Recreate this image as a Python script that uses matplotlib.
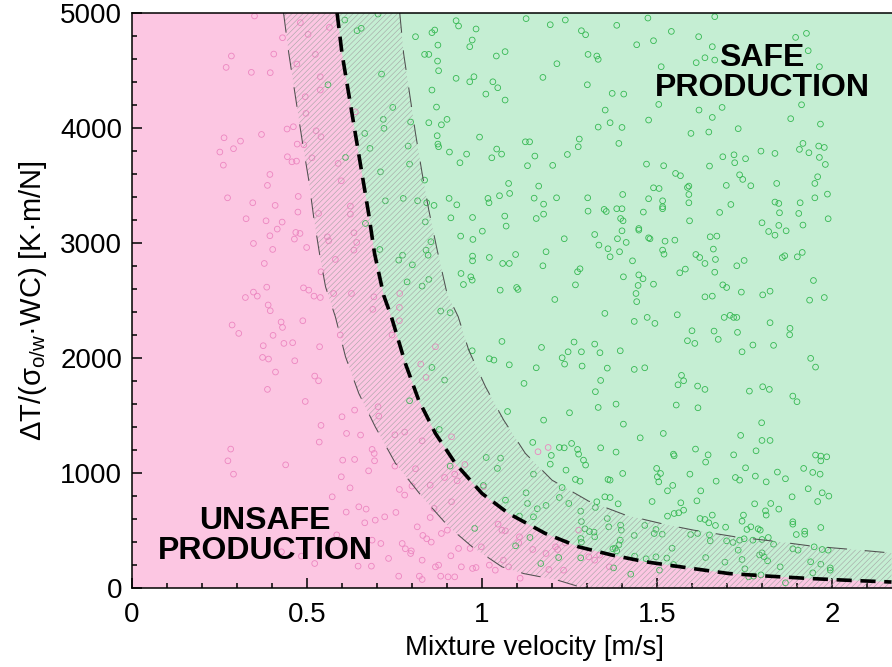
import matplotlib
matplotlib.use("Agg")
import matplotlib.pyplot as plt
from matplotlib.ticker import MultipleLocator

plt.rcParams['font.family'] = ['Liberation Sans', 'DejaVu Sans']
plt.rcParams['mathtext.fontset'] = 'custom'
plt.rcParams['mathtext.rm'] = 'Liberation Sans'
plt.rcParams['mathtext.it'] = 'Liberation Sans:italic'
plt.rcParams['hatch.linewidth'] = 0.4

# ---------------- data ----------------
x_label = "Mixture velocity [m/s]"
y_label = r"ΔT/(σ$_{\mathrm{o/w}}$·WC) [K·m/N]"
safe_label = "SAFE\nPRODUCTION"
unsafe_label = "UNSAFE\nPRODUCTION"
x_ticks = [0, 0.5, 1, 1.5, 2]
x_ticklabels = ["0", "0.5", "1", "1.5", "2"]
y_ticks = [0, 1000, 2000, 3000, 4000, 5000]
y_ticklabels = ["0", "1000", "2000", "3000", "4000", "5000"]

# critical boundary (thick dashed)
boundary_x = [0.586, 0.600, 0.619, 0.638, 0.657, 0.676, 0.693, 0.719, 0.741, 0.781, 0.819, 0.867,
              0.924, 1.000, 1.076, 1.181, 1.276, 1.372, 1.467, 1.600, 1.705, 1.819, 1.934, 2.039, 2.170]
boundary_y = [5000, 4649, 4301, 3953, 3605, 3257, 2909, 2546, 2359, 1953, 1634, 1344,
              1083, 822, 648, 474, 358, 286, 228, 170, 126, 103, 83, 68, 52]
# lower uncertainty bound (thin dashed)
lower_x = [0.433, 0.448, 0.467, 0.486, 0.505, 0.519, 0.538, 0.553, 0.581, 0.610, 0.648, 0.695,
           0.753, 0.829, 0.905, 0.972, 1.057, 1.120, 1.214, 1.290]
lower_y = [5000, 4649, 4272, 3895, 3547, 3228, 2866, 2619, 2359, 2011, 1692, 1402,
           1083, 793, 532, 358, 184, 125, 70, 0]
# upper uncertainty bound (thin dashed)
upper_x = [0.765, 0.776, 0.793, 0.810, 0.829, 0.848, 0.872, 0.900, 0.932, 0.962, 1.010, 1.062,
           1.124, 1.200, 1.305, 1.410, 1.524, 1.605, 1.724, 1.848, 1.943, 2.058, 2.170]
upper_y = [5000, 4649, 4301, 3953, 3605, 3286, 2938, 2561, 2359, 2069, 1750, 1460,
           1170, 938, 755, 634, 552, 503, 445, 402, 364, 335, 304]

pink_x = [0.350, 0.481, 0.503, 0.430, 0.405, 0.284, 0.269, 0.341, 0.395, 0.524, 0.471, 0.538,
          0.538, 0.495, 0.497, 0.443, 0.461, 0.370, 0.263, 0.310, 0.526, 0.540, 0.251, 0.290,
          0.472, 0.491, 0.444, 0.457, 0.470, 0.514, 0.261, 0.394, 0.387, 0.273, 0.345, 0.409,
          0.475, 0.474, 0.533, 0.326, 0.383, 0.429, 0.415, 0.394, 0.468, 0.480, 0.464, 0.347,
          0.402, 0.499, 0.378, 0.385, 0.347, 0.324, 0.358, 0.490, 0.505, 0.520, 0.538, 0.540,
          0.564, 0.638, 0.589, 0.598, 0.624, 0.624, 0.634, 0.558, 0.562, 0.642, 0.634, 0.581,
          0.576, 0.627, 0.691, 0.765,
          0.389, 0.395, 0.286, 0.305, 0.426, 0.430, 0.403, 0.488, 0.375, 0.434, 0.459, 0.373,
          0.390, 0.465, 0.410, 0.387, 0.522, 0.533, 0.536, 0.495, 0.540, 0.535, 0.282, 0.274,
          0.290, 0.439, 0.427, 0.484, 0.522,
          0.688, 0.764, 0.764, 0.743, 0.595, 0.867, 0.825, 0.840, 0.636, 0.600, 0.703, 0.705,
          0.613, 0.653, 0.751, 0.779, 0.829, 0.913, 0.686, 0.692, 0.693, 0.602, 0.636, 0.676,
          0.751, 0.810, 0.598, 0.623, 0.572, 0.764, 0.779, 0.800, 0.852, 0.893, 0.922, 0.929,
          0.951, 1.004, 0.913, 0.648, 0.669, 0.612, 0.695, 0.722, 0.754, 0.665, 0.863, 0.852,
          0.815, 0.901, 0.884, 0.831, 0.842, 0.855, 0.772, 0.781, 0.798, 0.796, 0.686, 0.711,
          0.585, 0.733, 0.829, 0.911, 0.933, 0.966, 0.876, 0.867, 0.941, 0.973, 0.983, 1.021,
          1.038, 1.061, 1.076, 0.762, 0.821, 0.829, 0.882, 0.903, 0.922, 0.998, 1.046, 1.057,
          1.067, 0.646, 0.684,
          1.160, 1.189, 1.107, 1.105, 1.145, 1.210, 1.216, 1.238, 1.183, 1.305, 1.336, 1.191,
          1.233, 1.109, 1.364, 1.322, 1.276]
pink_y = [4974, 4916, 4814, 4785, 4643, 4626, 4527, 4484, 4481, 4640, 4556, 4446,
          4330, 4272, 4127, 3991, 4011, 3944, 3915, 3886, 3976, 3924, 3791, 3820,
          3860, 3854, 3750, 3706, 3712, 3741, 3677, 3596, 3501, 3393, 3350, 3327,
          3405, 3269, 3257, 3211, 3193, 3182, 3121, 3063, 3092, 3083, 3034, 2996,
          2944, 2961, 2822, 2616, 2573, 2526, 2538, 2610, 2590, 2538, 2526, 2750,
          4875, 4141, 3692, 3541, 3321, 3251, 3089, 3054, 3019, 3005, 2938, 2857,
          2561, 2561, 2532, 2561,
          2461, 2411, 2287, 2214, 2313, 2266, 2197, 2324, 2107, 2127, 2133, 2005,
          1991, 1976, 1878, 1727, 1843, 1802, 2098, 1622, 1414, 1269, 1208, 1106,
          990, 1071, 315, 277, 213,
          2423, 2440, 2324, 2200, 2200, 2098, 1947, 1831, 1547, 1489, 1576, 1495,
          1344, 1330, 1332, 1356, 1280, 1315, 1205, 1170, 1106, 1112, 1118, 1019,
          1060, 1037, 967, 871, 793, 857, 808, 886, 894, 961, 990, 932,
          1074, 880, 750, 706, 686, 660, 590, 619, 657, 567, 692, 613,
          532, 503, 474, 457, 428, 399, 387, 341, 323, 300, 416, 387,
          462, 257, 242, 280, 344, 344, 199, 184, 184, 170, 178, 199,
          155, 242, 184, 103, 103, 74, 103, 97, 97, 358, 555, 503,
          497, 190, 190,
          1185, 1222, 445, 393, 335, 358, 335, 393, 300, 271, 286, 161,
          155, 85, 184, 242, 503]

green_x = [0.608, 0.643, 0.655, 0.703, 0.560, 0.713, 0.745, 0.718, 0.720, 0.665, 0.680, 0.610,
           0.710, 0.667, 0.724, 0.775, 0.816, 0.842, 0.863, 0.838, 0.854, 0.840, 0.846, 0.708,
           0.762, 0.773, 0.801, 0.786, 0.829, 0.848, 0.796, 0.789, 0.793, 0.836, 0.810, 0.857,
           0.865, 0.874, 0.836, 0.848, 0.873, 0.876, 0.926, 0.933, 0.983, 0.972, 0.965, 1.041,
           1.066, 0.926, 0.965, 0.977, 1.031, 1.045, 1.011, 1.066, 0.857, 0.870, 0.848, 0.884,
           0.900, 0.993, 0.872, 0.874, 0.876, 0.907, 0.956, 0.937, 1.028, 1.042, 1.056, 1.076,
           1.079, 1.050, 1.017, 1.020, 0.906, 0.928, 0.911, 0.973, 1.065, 1.069, 1.001, 0.939,
           0.974, 0.973, 0.973, 1.021, 1.059, 1.078, 0.940, 0.968, 0.972, 0.947, 1.052,
           1.126, 1.195, 1.238, 1.284, 1.296, 1.385, 1.474, 1.541, 1.619, 1.442, 1.490, 1.303,
           1.328, 1.332, 1.214, 1.612, 1.512, 1.174, 1.301, 1.372, 1.405, 1.352, 1.505, 1.476,
           1.620, 1.332, 1.366, 1.400, 1.597, 1.124, 1.136, 1.278, 1.275, 1.391, 1.151, 1.244,
           1.130, 1.202, 1.470, 1.519, 1.553, 1.567, 1.591, 1.587, 1.591, 1.591, 1.593, 1.490,
           1.506, 1.476, 1.516, 1.516, 1.516, 1.461, 1.162, 1.149, 1.176, 1.213, 1.302, 1.402,
           1.155, 1.176, 1.303, 1.349, 1.355, 1.385, 1.400, 1.396, 1.403, 1.400, 1.322, 1.387,
           1.412, 1.448, 1.448, 1.476, 1.480, 1.523, 1.551, 1.235, 1.096, 1.183, 1.174, 1.334,
           1.360, 1.366, 1.393, 1.430, 1.516, 1.520, 1.611, 1.622, 1.273, 1.280, 1.267, 1.404,
           1.448, 1.460, 1.446, 1.490, 1.440, 1.565, 1.581, 1.099, 1.103, 1.208,
           1.665, 1.896, 1.927, 1.932, 1.964, 1.658, 1.637, 1.665, 1.686, 1.658, 1.648, 1.732,
           1.882, 1.913, 1.967, 1.917, 1.907, 1.934, 1.962, 1.978, 1.964, 1.981, 1.797, 1.837,
           1.688, 1.720, 1.722, 1.753, 1.650, 1.736, 1.745, 1.768, 1.698, 1.842, 1.959, 1.951,
           1.987, 1.951, 1.837, 1.848, 1.909, 1.850, 1.905, 1.679, 1.711, 1.989, 1.917, 1.800,
           1.819, 1.837, 1.848, 1.869, 1.652, 1.671, 1.661, 1.667, 1.637, 1.665, 1.728, 1.749,
           1.858, 1.865, 1.901, 1.915, 1.688, 1.699, 1.741, 1.802, 1.823, 1.947, 1.637, 1.658,
           1.936, 1.978,
           0.882, 0.909, 0.972, 1.021, 1.034, 1.078, 1.057, 0.857, 0.893, 0.793, 1.073, 0.878,
           1.012, 1.053, 1.044, 0.909, 1.067, 0.979, 1.004,
           1.442, 1.351, 1.435, 1.472, 1.494, 1.558, 1.600, 1.587, 1.608, 1.170, 1.263, 1.322,
           1.246, 1.284, 1.337, 1.395, 1.229, 1.236, 1.286, 1.155, 1.358, 1.435, 1.465, 1.120,
           1.339, 1.324, 1.570, 1.576, 1.560, 1.616, 1.332, 1.383, 1.250, 1.176, 1.404, 1.555,
           1.617, 1.452, 1.518, 1.145, 1.221, 1.235, 1.256, 1.273, 1.276, 1.198, 1.290, 1.296,
           1.195, 1.339, 1.383, 1.547, 1.549, 1.610, 1.147, 1.240, 1.267, 1.280, 1.360, 1.366,
           1.402, 1.499, 1.510, 1.501, 1.505, 1.594, 1.545, 1.530, 1.625, 1.126, 1.183, 1.158,
           1.130, 1.221, 1.248, 1.229, 1.351, 1.366, 1.328, 1.324, 1.389, 1.486, 1.568, 1.576,
           1.562, 1.549, 1.530, 1.614, 1.623, 1.282, 1.284, 1.147, 1.107, 1.294, 1.307, 1.320,
           1.322, 1.362, 1.358, 1.396, 1.398, 1.435, 1.465, 1.497, 1.515, 1.492, 1.596, 1.616,
           1.282, 1.284, 1.395, 1.391, 1.381, 1.385, 1.374, 1.436, 1.469, 1.497, 1.528, 1.543,
           1.547, 1.507, 1.425, 1.376, 1.282, 1.219, 1.168, 1.096, 1.137,
           1.692, 1.709, 1.719, 1.728, 1.823, 1.880, 1.879, 1.663, 1.675, 1.730, 1.743, 1.774,
           1.833, 1.939, 1.953, 1.637, 1.764, 1.802, 1.821, 1.888, 1.900, 1.799, 1.739, 1.800,
           1.823, 1.783, 1.646, 1.639, 1.719, 1.753, 1.724, 1.736, 1.781, 1.812, 1.844, 1.867,
           1.919, 1.945, 1.966, 1.953, 1.968, 1.985, 1.968, 1.932, 1.972, 1.991, 1.959, 1.886,
           1.669, 1.779, 1.825, 1.848, 1.810, 1.812, 1.888, 1.888, 1.968, 1.922, 1.922, 1.898,
           1.658, 1.637, 1.648, 1.667, 1.696, 1.747, 1.743, 1.757, 1.768, 1.789, 1.795, 1.650,
           1.652, 1.699, 1.717, 1.736, 1.749, 1.774, 1.800, 1.818, 1.833, 1.732, 1.743, 1.694,
           1.639, 1.793, 1.806, 1.800, 1.816, 1.852, 1.751, 1.762, 1.776, 1.797, 1.888, 1.903,
           1.949, 1.972, 1.989, 1.939, 1.968, 1.995, 1.995, 1.945, 1.867]
green_y = [4939, 4846, 4867, 4991, 4376, 4469, 4179, 4075, 3997, 3953, 3823, 3744,
           3619, 3170, 3367, 3388, 3367, 3350, 3327, 3184, 3011, 2938, 2894, 2944,
           2851, 2894, 2810, 2662, 2625, 2683, 4052, 3843, 3686, 3547, 4794, 4829,
           4852, 4721, 4640, 4640, 4582, 4498, 4933, 4887, 4861, 4765, 4707, 4626,
           4664, 4432, 4402, 4446, 4402, 4350, 4295, 4243, 4330, 4182, 4046, 4028,
           4075, 3921, 3933, 3860, 3837, 3791, 3773, 3698, 3741, 3817, 3773, 3518,
           3431, 3411, 3388, 3350, 3388, 3332, 3219, 3222, 3234, 3147, 3103, 3060,
           3031, 2886, 2845, 2874, 2822, 2822, 2735, 2706, 2677, 2639, 2590,
           4951, 4898, 4939, 4846, 4811, 4893, 4956, 4840, 4794, 4724, 4759, 4640,
           4626, 4597, 4559, 4568, 4533, 4440, 4376, 4301, 4295, 4156, 4205, 4069,
           4156, 4008, 4046, 4005, 3953, 3880, 3880, 3904, 3837, 3866, 3756, 3770,
           3672, 3675, 3686, 3672, 3605, 3585, 3495, 3483, 3422, 3350, 3193, 3480,
           3474, 3385, 3367, 3315, 3298, 3269, 3495, 3390, 3338, 3393, 3393, 3422,
           3213, 3251, 3277, 3292, 3274, 3298, 3298, 3213, 3193, 3106, 3074, 3037,
           3005, 3126, 3112, 3045, 3037, 3016, 3025, 3037, 2900, 2924, 2802, 2982,
           2950, 2880, 2924, 2845, 2938, 2903, 2900, 2874, 2750, 2776, 2636, 2706,
           2723, 2689, 2631, 2642, 2561, 2741, 2773, 2613, 2596, 2509,
           4968, 4788, 4823, 4672, 4533, 4707, 4611, 4591, 4179, 4092, 3965, 3994,
           4081, 4202, 4034, 3866, 3814, 3785, 3843, 3831, 3744, 3683, 3799, 3779,
           3750, 3767, 3698, 3733, 3669, 3593, 3553, 3498, 3501, 3518, 3576, 3518,
           3425, 3393, 3356, 3344, 3350, 3263, 3257, 3266, 3335, 3211, 3156, 3176,
           3100, 3068, 3153, 3106, 3054, 3060, 2947, 2857, 2822, 2746, 2802, 2848,
           2874, 2889, 2880, 2918, 2636, 2613, 2573, 2549, 2581, 2674, 2532, 2538,
           2503, 2526,
           2408, 2394, 2063, 1994, 1982, 1941, 2144, 1918, 1808, 1628, 1535, 1379,
           1135, 1129, 1040, 1060, 764, 518, 892,
           2490, 2388, 2318, 2353, 2301, 2376, 2237, 2150, 2127, 2092, 2139, 2121,
           2054, 2054, 2046, 2063, 2002, 1947, 1930, 1915, 1912, 1901, 1915, 1779,
           1805, 1707, 1849, 1802, 1767, 1756, 1570, 1599, 1524, 1460, 1425, 1591,
           1567, 1306, 1344, 1266, 1222, 1219, 1257, 1205, 1164, 1153, 1112, 1069,
           1077, 1219, 1182, 1164, 1150, 1208, 990, 1025, 944, 929, 944, 938,
           996, 1040, 996, 967, 923, 990, 892, 845, 845, 828, 718, 689,
           735, 787, 735, 874, 793, 787, 750, 700, 732, 752, 741, 677,
           654, 648, 625, 758, 604, 668, 578, 619, 625, 515, 491, 486,
           445, 532, 604, 547, 503, 457, 544, 509, 468, 474, 465, 474,
           431, 399, 416, 375, 346, 323, 341, 277, 254, 271, 260, 346,
           204, 155, 120, 175, 262, 265, 213, 367, 439,
           2353, 2371, 2353, 2353, 2307, 2258, 2202, 2234, 2162, 2223, 2054, 2113,
           2110, 1997, 1921, 1727, 1712, 1750, 1727, 1669, 1620, 1437, 1327, 1283,
           1283, 1193, 1158, 1095, 1158, 1045, 961, 938, 973, 923, 1008, 950,
           1040, 1005, 990, 1156, 1147, 1141, 1106, 863, 828, 799, 752, 793,
           929, 732, 735, 686, 671, 634, 576, 555, 526, 494, 468, 465,
           634, 596, 567, 544, 529, 634, 581, 509, 532, 515, 503, 462,
           410, 410, 396, 416, 428, 416, 422, 439, 381, 329, 248, 225,
           265, 288, 271, 306, 236, 184, 167, 97, 103, 114, 341, 329,
           358, 335, 329, 228, 207, 175, 155, 132, 45]

# ---------------- styling ----------------
pink_bg = "#fcc6e2"
green_bg = "#c5eed3"
pink_mk = "#ec86c0"
green_mk = "#35b852"

XMIN, XMAX = 0.0, 2.30
YMIN, YMAX = 0.0, 5000.0

fig = plt.figure(figsize=(8.92, 6.67), dpi=100)
ax = fig.add_axes([132 / 892, 79 / 667, (XMAX - XMIN) * 350 / 892, 575 / 667])
ax.set_xlim(XMIN, XMAX)
ax.set_ylim(YMIN, YMAX)
ax.set_facecolor(green_bg)

# unsafe (pink) region: left of / below the boundary
px = [XMIN, XMIN] + boundary_x + [boundary_x[-1]]
py = [YMIN, YMAX] + boundary_y + [YMIN]
ax.fill(px, py, facecolor=pink_bg, edgecolor="none", zorder=0.5)

# points
ax.scatter(pink_x, pink_y, s=17, facecolors="none", edgecolors=pink_mk, linewidths=0.6, zorder=2)
ax.scatter(green_x, green_y, s=17, facecolors="none", edgecolors=green_mk, linewidths=0.6, zorder=2)

# hatched uncertainty band
hx = lower_x + [upper_x[-1]] + upper_x[::-1]
hy = lower_y + [YMIN] + upper_y[::-1]
ax.fill(hx, hy, facecolor="none", edgecolor="#a4a4a4", linewidth=0, hatch="//////", zorder=3)

# curves
ax.plot(lower_x, lower_y, color="#505050", lw=0.75, dashes=(19, 17), zorder=4)
ax.plot(upper_x, upper_y, color="#505050", lw=0.75, dashes=(19, 17), zorder=4)
ax.plot(boundary_x, boundary_y, color="black", lw=2.6, dashes=(4.2, 2.4), zorder=5)

# annotations
ax.text(1.80, 4480, safe_label, ha="center", va="center", fontsize=23, fontweight="bold",
        linespacing=1.0, zorder=6)
ax.text(0.38, 455, unsafe_label, ha="center", va="center", fontsize=23, fontweight="bold",
        linespacing=1.0, zorder=6)

# axes styling
ax.set_xticks(x_ticks)
ax.set_xticklabels(x_ticklabels)
ax.set_yticks(y_ticks)
ax.set_yticklabels(y_ticklabels)
ax.xaxis.set_minor_locator(MultipleLocator(0.1))
ax.yaxis.set_minor_locator(MultipleLocator(200))
ax.tick_params(which="both", direction="in", width=1.1, colors="black", labelsize=20)
ax.tick_params(which="major", length=7)
ax.tick_params(which="minor", length=3.8)
ax.tick_params(axis="x", which="major", pad=10)
ax.tick_params(axis="y", which="major", pad=7)
for s in ax.spines.values():
    s.set_linewidth(1.1)
    s.set_zorder(7)

ax.set_xlabel(x_label, fontsize=20, labelpad=5)
ax.set_ylabel(y_label, fontsize=21, labelpad=8)

fig.savefig("out.png", dpi=100)
